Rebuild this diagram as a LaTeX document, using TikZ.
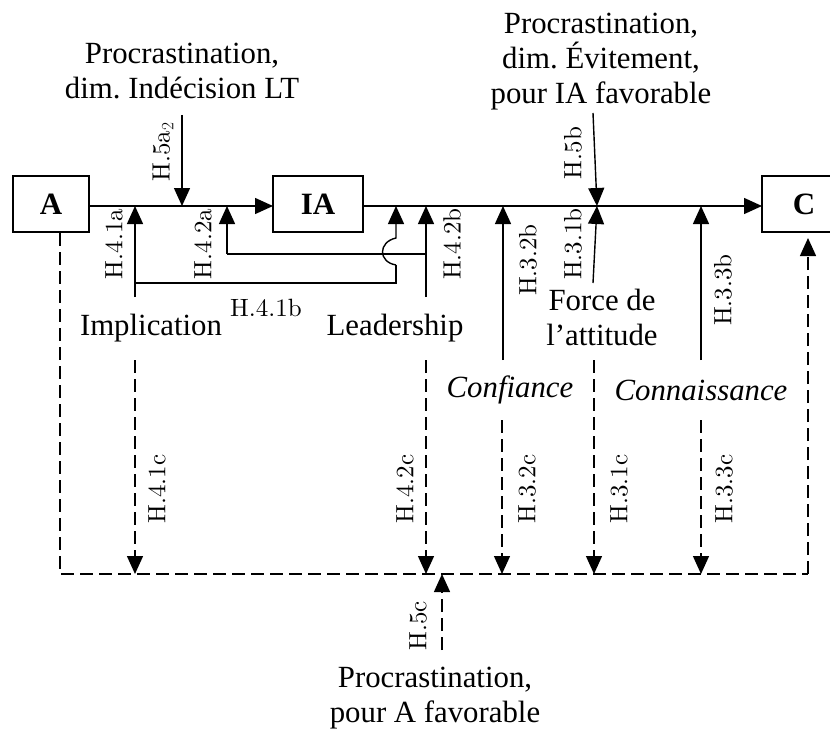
\documentclass[tikz,border=0pt]{standalone}
\usepackage{fontspec}
\newfontfamily\tnr{Liberation Serif}
\newfontfamily\lmten{lmroman10-regular.otf}
\usetikzlibrary{arrows.meta}
\frenchspacing
\tikzset{
  box/.style={draw, line width=1.4pt, minimum height=56pt, inner sep=0pt,
    font=\tnr\bfseries\fontsize{31}{35}\selectfont},
  txt/.style={font=\tnr\fontsize{30.8}{35}\selectfont, align=center, inner sep=0pt},
  itxt/.style={txt, font=\tnr\itshape\fontsize{30.8}{35}\selectfont},
  lbl/.style={font=\lmten\fontsize{25}{29}\selectfont, rotate=90, inner sep=0pt},
  hlbl/.style={font=\lmten\fontsize{25}{29}\selectfont, inner sep=0pt},
  ln/.style={line width=1.4pt},
  arr/.style={line width=1.4pt, -{Triangle[length=18pt,width=16pt]}},
  dsh/.style={dash pattern=on 13pt off 6pt},
}
\begin{document}
\begin{tikzpicture}[x=1pt,y=-1pt]
\useasboundingbox (0,0) rectangle (830,733);

% boxes
\node[box, minimum width=76pt] (A) at (51,204) {A};
\node[box, minimum width=90pt] (IA) at (318,204) {IA};
\node[box, minimum width=84pt] (C) at (804,204) {C};
\coordinate (Aout) at (89,206);
\coordinate (IAin) at (273,206);
\coordinate (IAout) at (363,206);
\coordinate (Cin) at (762,206);
\draw[arr] (Aout) -- (IAin);
\draw[arr] (IAout) -- (Cin);

% texts
\node[txt] (t1) at (182,71) {Procrastination,\\dim. Indécision LT};
\node[txt] (t2) at (601,62) {Procrastination,\\dim. Évitement,\\pour IA favorable};
\node[txt] (impl) at (151,328) {Implication};
\node[txt] (lead) at (395,328) {Leadership};
\node[txt] (force) at (602,317) {Force de\\l’attitude};
\node[itxt] (conf) at (510,390) {Confiance};
\node[itxt] (conn) at (701,390) {Connaissance};
\node[txt] (t3) at (435,698) {Procrastination,\\pour A favorable};

% junction coordinates
\coordinate (j5a) at (182,206);
\coordinate (s5a) at (182,115);
\coordinate (j5b) at (597,206);
\coordinate (s5b) at (593,113);
\coordinate (s31b) at (593,283);
\coordinate (j41a) at (135,206);
\coordinate (s41a) at (135,297);
\coordinate (k41) at (135,283);
\coordinate (k41r) at (396,283);
\coordinate (h1) at (396,265);
\coordinate (h2) at (396,238);
\coordinate (j41b) at (396,206);
\coordinate (j42a) at (227,206);
\coordinate (k42) at (227,254);
\coordinate (k42r) at (426,254);
\coordinate (j42b) at (426,206);
\coordinate (s42b) at (426,297);
\coordinate (j32b) at (503,206);
\coordinate (s32b) at (503,360);
\coordinate (j33b) at (701,206);
\coordinate (s33b) at (701,360);

% solid arrows
\draw[arr] (s5a) -- (j5a);
\draw[arr] (s5b) -- (j5b);
\draw[arr] (s31b) -- (j5b);
\draw[arr] (s41a) -- (j41a);
\draw[ln] (k41) -- (k41r) -- (h1);
\draw[arr] (h1) .. controls (378,262) and (378,242) .. (h2) -- (j41b);
\draw[ln] (k42r) -- (k42);
\draw[arr] (k42) -- (j42a);
\draw[arr] (s42b) -- (j42b);
\draw[arr] (s32b) -- (j32b);
\draw[arr] (s33b) -- (j33b);

% labels (upper)
\node[lbl] (l5a) at (163,152) {H.5a$_2$};
\node[lbl] (l5b) at (573,153) {H.5b};
\node[lbl] (l31b) at (573,244) {H.3.1b};
\node[lbl] (l41a) at (114,244) {H.4.1a};
\node[lbl] (l42a) at (203,244) {H.4.2a};
\node[lbl] (l42b) at (452,244) {H.4.2b};
\node[hlbl] (l41b) at (266,308) {H.4.1b};
\node[lbl] (l32b) at (528,260) {H.3.2b};
\node[lbl] (l33b) at (723,290) {H.3.3b};

% dashed loop
\coordinate (d1) at (60,233);
\coordinate (d2) at (60,574);
\coordinate (d3) at (808,574);
\coordinate (d4) at (808,238);
\draw[ln, dsh] (d1) -- (d2) -- (d3);
\draw[arr, dsh] (d3) -- (d4);

% dashed arrows
\coordinate (u41c) at (135,360); \coordinate (b41c) at (135,574);
\coordinate (u42c) at (426,360); \coordinate (b42c) at (426,574);
\coordinate (u32c) at (502,420); \coordinate (b32c) at (502,574);
\coordinate (u31c) at (594,360); \coordinate (b31c) at (594,574);
\coordinate (u33c) at (701,420); \coordinate (b33c) at (701,574);
\coordinate (u5c) at (442,650);  \coordinate (b5c) at (442,574);
\draw[arr, dsh] (u41c) -- (b41c);
\draw[arr, dsh] (u42c) -- (b42c);
\draw[arr, dsh] (u32c) -- (b32c);
\draw[arr, dsh] (u31c) -- (b31c);
\draw[arr, dsh] (u33c) -- (b33c);
\draw[arr, dsh] (u5c) -- (b5c);

\node[lbl] (l41c) at (157,489) {H.4.1c};
\node[lbl] (l42c) at (405,489) {H.4.2c};
\node[lbl] (l32c) at (527,489) {H.3.2c};
\node[lbl] (l31c) at (619,489) {H.3.1c};
\node[lbl] (l33c) at (724,489) {H.3.3c};
\node[lbl] (l5c) at (418,626) {H.5c};
\end{tikzpicture}
\end{document}
